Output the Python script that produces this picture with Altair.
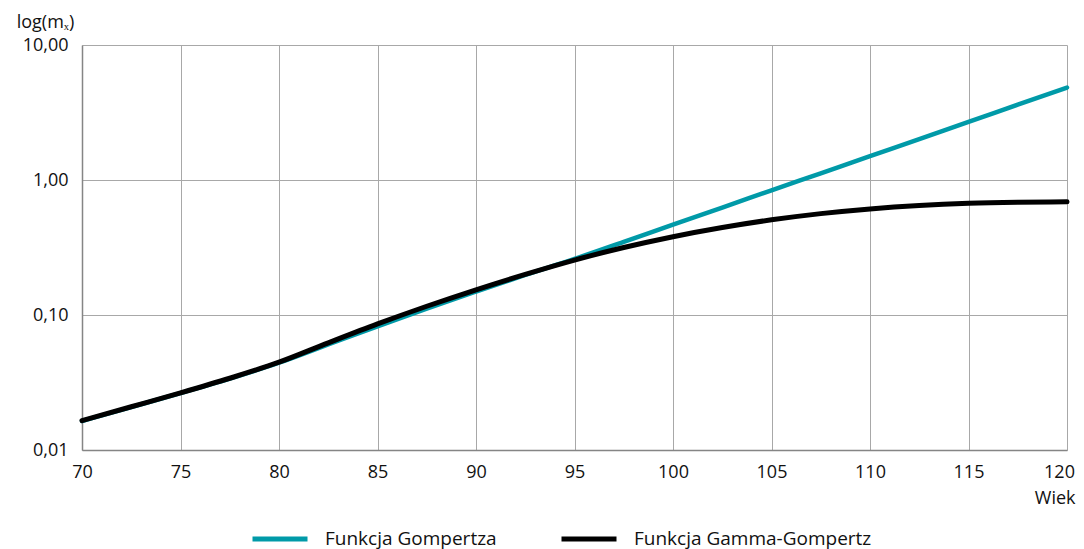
import altair as alt
import pandas as pd

ages = [70, 72.5, 75, 77.5, 80, 82.5, 85, 87.5, 90, 92.5, 95, 97.5, 100,
        102.5, 105, 107.5, 110, 112.5, 115, 117.5, 120]
gompertz = [0.0164, 0.0208, 0.0264, 0.0338, 0.0443, 0.0605, 0.0825, 0.1115, 0.149,
            0.198, 0.260, 0.348, 0.467, 0.625, 0.838, 1.122, 1.503, 2.01, 2.70, 3.61, 4.84]
gamma_gompertz = [0.0165, 0.0209, 0.0265, 0.0340, 0.0447, 0.0622, 0.0859, 0.1161, 0.1538,
                  0.2000, 0.2553, 0.3162, 0.3802, 0.4446, 0.5070, 0.5636, 0.6109, 0.6471,
                  0.6714, 0.6839, 0.6887]

names = ["Funkcja Gompertza", "Funkcja Gamma-Gompertz"]
colors = ["#009AA8", "#000000"]
y_ticks = [0.01, 0.1, 1, 10]
x_ticks = [70, 75, 80, 85, 90, 95, 100, 105, 110, 115, 120]

df1 = pd.DataFrame({"age": ages, "value": gompertz, "series": names[0]})
df2 = pd.DataFrame({"age": ages, "value": gamma_gompertz, "series": names[1]})

FONT = "Open Sans"
FS = 18

x_enc = alt.X("age:Q",
              scale=alt.Scale(domain=[70, 120], nice=False, zero=False),
              axis=alt.Axis(values=x_ticks, title="Wiek", titleAnchor="end",
                            titleAlign="right", titleBaseline="alphabetic",
                            titleX=993, titleY=53,
                            titleFontWeight="normal", labelPadding=13,
                            labelFontSize=FS, titleFontSize=FS,
                            labelOffset={"condition": {"test": "datum.value == 120", "value": -8}, "value": 0},
                            tickSize=0, labelFlush=False))
y_enc = alt.Y("value:Q",
              scale=alt.Scale(type="log", domain=[0.01, 10], nice=False),
              axis=alt.Axis(values=y_ticks, title="log(mₓ)", titleAngle=0,
                            titleAlign="center", titleBaseline="alphabetic",
                            titleX=-37, titleY=-18, titleFontWeight="normal",
                            labelFontSize=FS, titleFontSize=FS,
                            labelExpr="replace(format(datum.value, '.2f'), '.', ',')",
                            labelPadding=14, tickSize=0))
color_enc = alt.Color("series:N",
                      scale=alt.Scale(domain=names, range=colors),
                      legend=alt.Legend(title=None, orient="none", legendX=168, legendY=464,
                                        direction="horizontal", symbolType="stroke",
                                        symbolSize=3025, symbolStrokeWidth=5,
                                        labelOffset=15, columnPadding=54,
                                        labelLimit=400,
                                        labelFontSize=19, labelFont=FONT))

l1 = alt.Chart(df1).mark_line(strokeWidth=4.5, interpolate="monotone", strokeCap="round").encode(
    x=x_enc, y=y_enc, color=color_enc)
l2 = alt.Chart(df2).mark_line(strokeWidth=5, interpolate="monotone", strokeCap="round").encode(
    x=x_enc, y=y_enc, color=color_enc)

chart = alt.layer(l1, l2).properties(
    width=985, height=405,
    autosize=alt.AutoSizeParams(type="none"),
    padding={"left": 74, "top": 37, "right": 9, "bottom": 104},
).configure_view(stroke=None).configure_axis(
    gridColor="#a8a8a8", gridWidth=1, domainColor="#858585", domainWidth=1.5,
    labelFont=FONT, titleFont=FONT,
    labelColor="#111", titleColor="#111",
).configure_legend(labelFont=FONT, labelColor="#111")

chart.save("out.html", embed_options={"renderer": "svg", "actions": False})
